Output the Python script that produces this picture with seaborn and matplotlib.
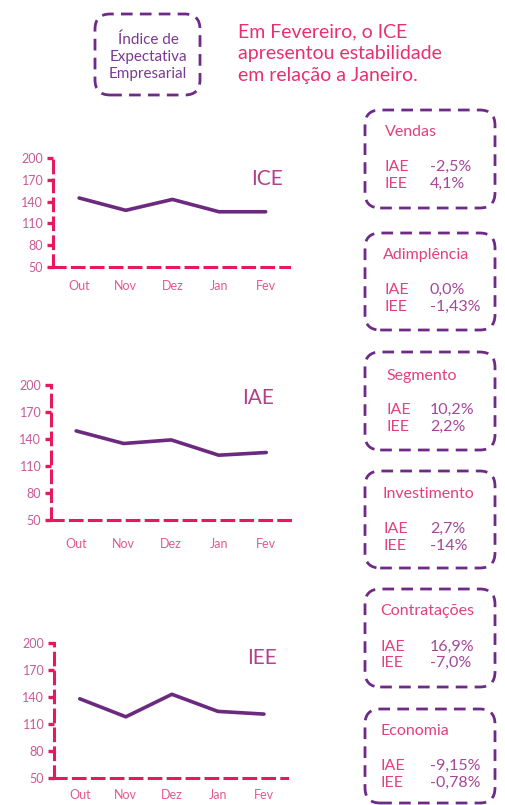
import numpy as np
import pandas as pd
import matplotlib
matplotlib.use("Agg")
import matplotlib.pyplot as plt
from matplotlib.patches import FancyBboxPatch
import seaborn as sns

months = ["Out", "Nov", "Dez", "Jan", "Fev"]
ice = [145, 128, 143, 126, 126]
iae = [149, 135, 139, 122, 125]
iee = [138, 118, 143, 124, 121]
yticks = [50, 80, 110, 140, 170, 200]

box_titles = ["Vendas", "Adimplência", "Segmento", "Investimento", "Contratações", "Economia"]
box_iae = ["-2,5%", "0,0%", "10,2%", "2,7%", "16,9%", "-9,15%"]
box_iee = ["4,1%", "-1,43%", "2,2%", "-14%", "-7,0%", "-0,78%"]

sns.set_theme(style="white")
plt.rcParams['font.family'] = ['Lato', 'DejaVu Sans']

W, H = 506, 805
fig = plt.figure(figsize=(W / 100, H / 100), dpi=100)
fig.patch.set_facecolor("white")

PINK = "#e6195f"
PURPLE = "#6b2a7f"
BOXP = "#6e2b86"
TXTPINK = "#e2407e"
TXTVAL = "#a2479a"
TICKC = "#c85a96"


def fx(x):
    return x / W


def fy(y):
    return 1 - y / H


def chart(vals, name, left, right, top, bottom, xlo, xhi, label_pad, title_xy):
    ax = fig.add_axes([fx(left), fy(bottom), fx(right - left), (bottom - top) / H])
    df = pd.DataFrame({"pos": np.arange(len(months)), "val": vals})
    sns.lineplot(data=df, x="pos", y="val", ax=ax, color=PURPLE, linewidth=2.6)
    ax.set_xlim(xlo, xhi)
    ax.set_ylim(50, 200)
    ax.set_xlabel("")
    ax.set_ylabel("")
    ax.set_xticks(np.arange(len(months)), months)
    ax.set_xticks(np.arange(len(months) + 1) - 0.5, minor=True)
    ax.set_yticks(yticks, [str(t) for t in yticks])
    ax.tick_params(axis="x", which="major", length=0, pad=label_pad, labelsize=9, labelcolor="#e05a90")
    ax.tick_params(axis="x", which="minor", length=4, width=2.4, color=PINK, direction="out")
    ax.tick_params(axis="y", length=4, width=2.4, color=PINK, direction="out", pad=3,
                   labelsize=9, labelcolor=TICKC, left=True)
    for s in ["top", "right"]:
        ax.spines[s].set_visible(False)
    for s in ["left", "bottom"]:
        ax.spines[s].set_color(PINK)
        ax.spines[s].set_linewidth(2.2)
        ax.spines[s].set_linestyle((0, (3.8, 2.4)))
    ax.set_facecolor("none")
    ax.grid(False)
    fig.text(fx(title_xy[0]), fy(title_xy[1]), name, fontsize=15, color="#b53f8c",
             ha="center", va="center")
    return ax


chart(ice, "ICE", 53, 289, 158, 267, -0.56, 4.5, 9, (267, 179))
chart(iae, "IAE", 51, 290, 385, 520, -0.53, 4.45, 13, (258, 398))
chart(iee, "IEE", 54, 287, 643, 778, -0.56, 4.45, 8, (262, 658))


def rbox(x0, y0, x1, y1):
    p = FancyBboxPatch((fx(x0), fy(y1)), fx(x1 - x0), (y1 - y0) / H,
                       boxstyle="round,pad=0,rounding_size=0.03",
                       transform=fig.transFigure, fill=False, edgecolor=BOXP,
                       linewidth=2.0, linestyle=(0, (4.2, 2.6)), mutation_aspect=W / H)
    fig.add_artist(p)


# title box
rbox(95, 14, 200, 95)
for i, t in enumerate(["Índice de", "Expectativa", "Empresarial"]):
    fig.text(fx(148), fy(40 + 17 * i), t, fontsize=11, color="#7a3a8f",
             ha="center", va="center")

for i, t in enumerate(["Em Fevereiro, o ICE", "apresentou estabilidade", "em relação a Janeiro."]):
    fig.text(fx(238), fy(32 + 21.5 * i), t, fontsize=14, color="#e8306e",
             ha="left", va="center")

boxes_y = [(110, 208), (233, 330), (352, 450), (471, 568), (589, 687), (709, 803)]
title_pos = [(385, 132), (383, 255), (386, 376), (383, 494), (380, 611), (381, 731)]
rows_y = [(167, 184), (290, 307), (410, 427), (529, 546), (647, 663), (766, 783)]
lab_x = [385, 385, 387, 384, 381, 381]

for i in range(6):
    y0, y1 = boxes_y[i]
    rbox(365, y0, 495, y1)
    fig.text(fx(title_pos[i][0]), fy(title_pos[i][1]), box_titles[i], fontsize=11.5,
             color=TXTPINK, ha="left", va="center")
    fig.text(fx(lab_x[i]), fy(rows_y[i][0]), "IAE", fontsize=11.5, color=TXTPINK,
             ha="left", va="center")
    fig.text(fx(lab_x[i]), fy(rows_y[i][1]), "IEE", fontsize=11.5, color=TXTPINK,
             ha="left", va="center")
    fig.text(fx(430), fy(rows_y[i][0]), box_iae[i], fontsize=11.5, color=TXTVAL,
             ha="left", va="center")
    fig.text(fx(430), fy(rows_y[i][1]), box_iee[i], fontsize=11.5, color=TXTVAL,
             ha="left", va="center")

fig.savefig("out.png", dpi=100, facecolor="white")
